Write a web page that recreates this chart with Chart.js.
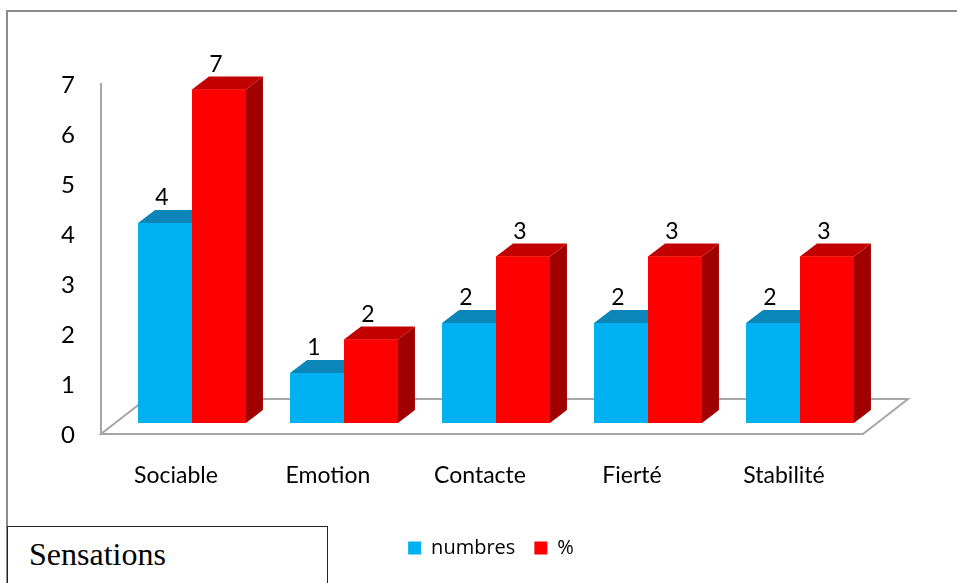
<!DOCTYPE html>
<html>
<head>
<meta charset="utf-8">
<script src="https://cdn.jsdelivr.net/npm/chart.js@4/dist/chart.umd.min.js"></script>
<style>
html,body{margin:0;padding:0;background:#fff;width:957px;height:583px;overflow:hidden;}
#frame{position:absolute;left:6px;top:10px;width:1000px;height:620px;border:2px solid #8c8c8c;box-sizing:border-box;}
#chart{position:absolute;left:0;top:0;}
#title{position:absolute;left:7px;top:526px;width:321px;height:80px;border:1.5px solid #222;background:#fff;box-sizing:border-box;
  font-family:"Liberation Serif","Times New Roman",serif;font-size:32px;line-height:32px;padding:11px 0 0 21px;color:#000;}
</style>
</head>
<body>
<div id="frame"></div>
<canvas id="chart" width="957" height="583"></canvas>
<div id="title">Sensations</div>
<script>
const categories = ['Sociable', 'Emotion', 'Contacte', 'Fierté', 'Stabilité'];
const seriesNames = ['numbres', '%'];
const numbres = [4, 1, 2, 2, 2];
const pourcent = [6.67, 1.67, 3.33, 3.33, 3.33];
const yTickValues = [0, 1, 2, 3, 4, 5, 6, 7];

const frontColors = ['#00B0F0', '#FF0000'];
const topColors = ['#0C86B8', '#C20000'];
const sideColors = ['#0078A8', '#A00000'];
const DX = 17, DY = 13;

const labelFont = '"Lato", "Open Sans", sans-serif';

const bars3d = {
  id: 'bars3d',
  beforeDatasetsDraw(chart) {
    const {ctx, chartArea} = chart;
    const y0 = chart.scales.y.getPixelForValue(0);
    const yTop = chart.scales.y.getPixelForValue(yTickValues[yTickValues.length - 1]);
    const fl = chartArea.left - 15, fr = chartArea.right - 13;
    const fy = y0 + 11, by = y0 - 24;
    ctx.save();
    ctx.beginPath();
    ctx.moveTo(fl, fy);
    ctx.lineTo(fr, fy);
    ctx.lineTo(fr + 45, by);
    ctx.lineTo(fl + 45, by);
    ctx.closePath();
    ctx.fillStyle = '#ffffff';
    ctx.fill();
    ctx.strokeStyle = '#a6a6a6';
    ctx.lineWidth = 2;
    ctx.stroke();
    ctx.beginPath();
    ctx.moveTo(fl, yTop + 10);
    ctx.lineTo(fl, fy);
    ctx.stroke();
    ctx.restore();
  },
  afterDatasetsDraw(chart) {
    const {ctx} = chart;
    ctx.save();
    // 3D faces, drawn series by series so that later series sit in front
    chart.data.datasets.forEach((ds, i) => {
      const meta = chart.getDatasetMeta(i);
      meta.data.forEach((bar) => {
        const p = bar.getProps(['x', 'y', 'base', 'width'], true);
        const l = p.x - p.width / 2, r = p.x + p.width / 2;
        const t = p.y, b = p.base;
        ctx.beginPath();
        ctx.moveTo(r, t);
        ctx.lineTo(r + DX, t - DY);
        ctx.lineTo(r + DX, b - DY);
        ctx.lineTo(r, b);
        ctx.closePath();
        ctx.fillStyle = sideColors[i];
        ctx.fill();
        ctx.beginPath();
        ctx.moveTo(l, t);
        ctx.lineTo(l + DX, t - DY);
        ctx.lineTo(r + DX, t - DY);
        ctx.lineTo(r, t);
        ctx.closePath();
        ctx.fillStyle = topColors[i];
        ctx.fill();
        bar.draw(ctx, chart.chartArea);
      });
    });
    // value labels
    ctx.fillStyle = '#000';
    ctx.font = '23px ' + labelFont;
    ctx.textAlign = 'center';
    ctx.textBaseline = 'alphabetic';
    chart.data.datasets.forEach((ds, i) => {
      const meta = chart.getDatasetMeta(i);
      meta.data.forEach((bar, j) => {
        const p = bar.getProps(['x', 'y'], true);
        ctx.fillText(String(Math.round(ds.data[j])), p.x - 3, p.y - DY - 5);
      });
    });
    ctx.restore();
  },
  afterLayout(chart) {
    const lg = chart.legend;
    if (lg) { lg.left += 53; lg.right += 53; }
  }
};

new Chart(document.getElementById('chart'), {
  type: 'bar',
  data: {
    labels: categories,
    datasets: [
      {label: seriesNames[0], data: numbres, backgroundColor: frontColors[0], borderWidth: 0},
      {label: seriesNames[1], data: pourcent, backgroundColor: frontColors[1], borderWidth: 0}
    ]
  },
  plugins: [bars3d],
  options: {
    responsive: false,
    animation: false,
    events: [],
    layout: {padding: {left: 0, right: 81, top: 73, bottom: 15}},
    datasets: {bar: {categoryPercentage: 0.71, barPercentage: 1.0}},
    plugins: {
      legend: {
        display: true,
        position: 'bottom',
        labels: {
          boxWidth: 13, boxHeight: 13, padding: 19, color: '#000',
          font: {family: '"Open Sans", sans-serif', size: 20}
        }
      },
      tooltip: {enabled: false}
    },
    scales: {
      x: {
        grid: {display: false, drawTicks: false},
        border: {display: false},
        ticks: {color: '#000', font: {family: labelFont, size: 23}, padding: 39, labelOffset: -16, maxRotation: 0},
        afterFit(scale) { scale.height = 96; }
      },
      y: {
        min: 0, max: 7,
        grid: {display: false, drawTicks: false},
        border: {display: false},
        afterBuildTicks(scale) { scale.ticks = yTickValues.map(v => ({value: v})); },
        ticks: {color: '#000', font: {family: labelFont, size: 24}, padding: 41, labelOffset: 12},
        afterFit(scale) { scale.width = 116; }
      }
    }
  }
});
</script>
</body>
</html>
